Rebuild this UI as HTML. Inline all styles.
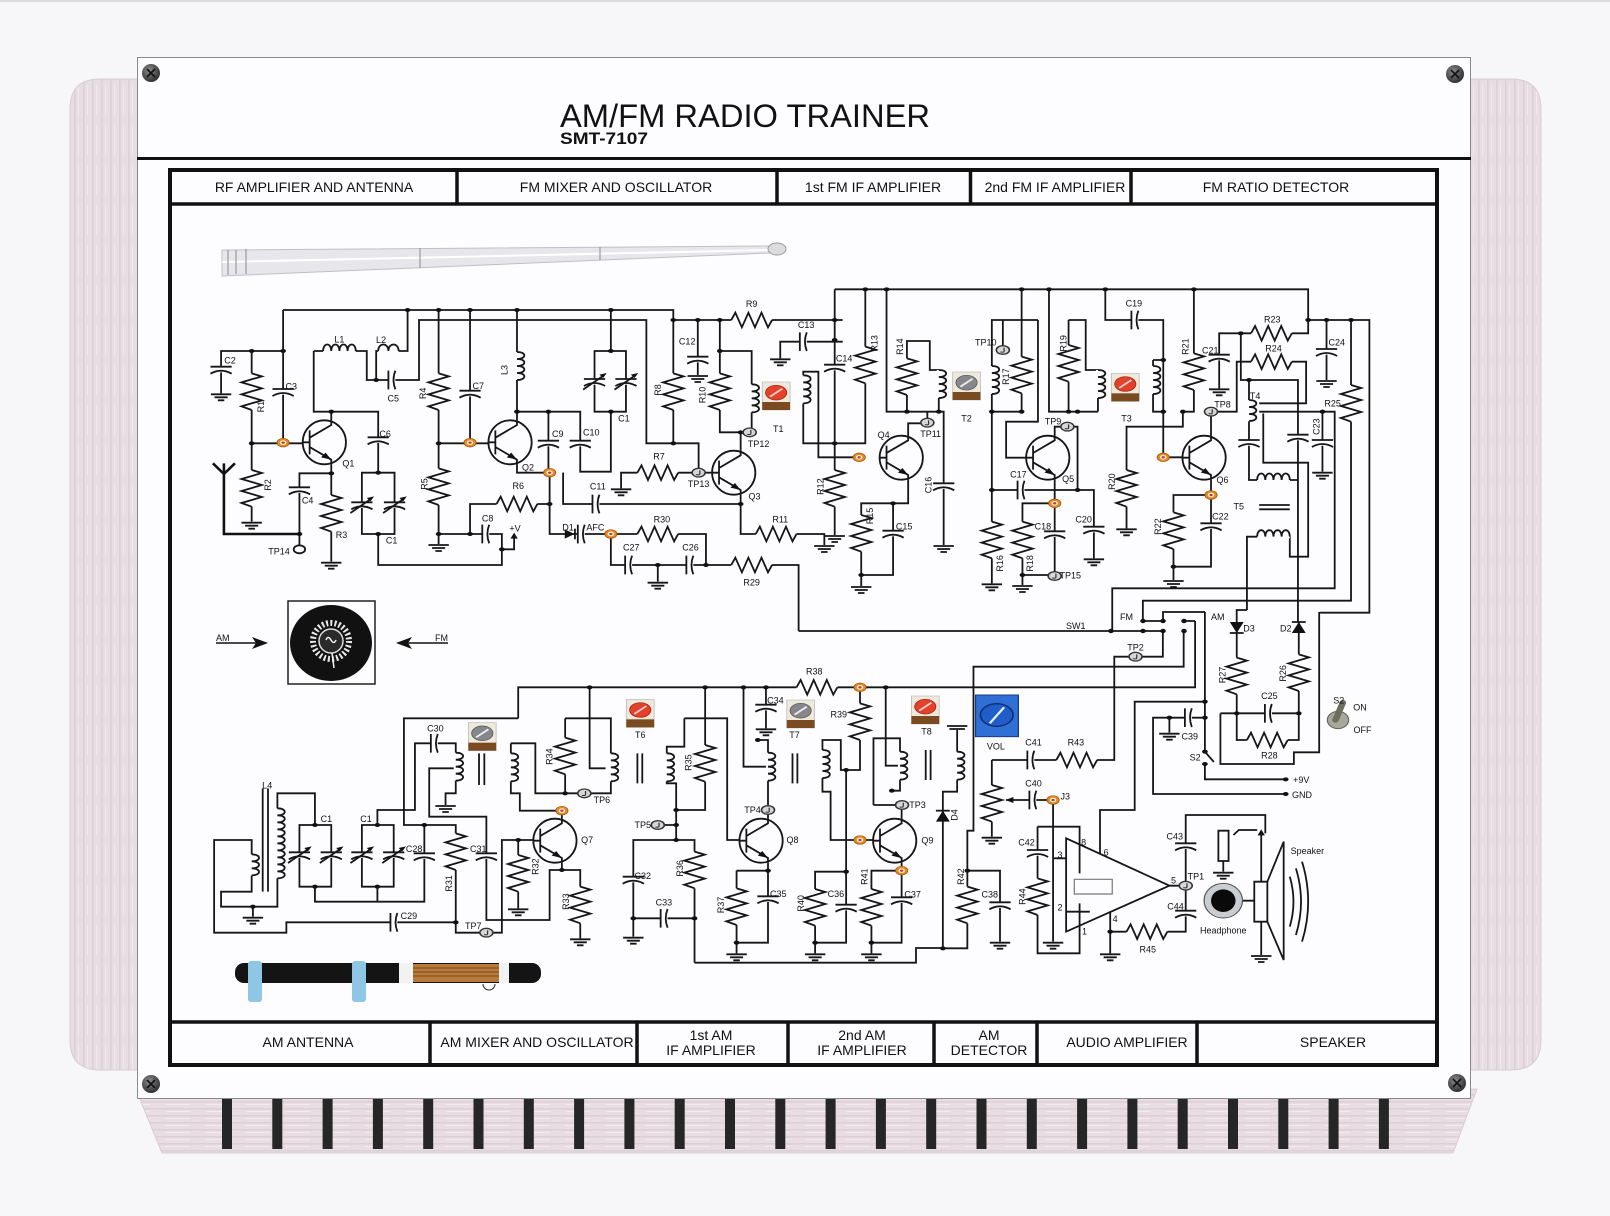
<!DOCTYPE html>
<html><head><meta charset="utf-8"><style>
html,body{margin:0;padding:0;background:#f7f7f9;}
svg{display:block}
.w{fill:none;stroke:#161616;stroke-width:1.8;vector-effect:non-scaling-stroke;stroke-linejoin:miter}
.b{fill:none;stroke:#111;stroke-width:2.6;vector-effect:non-scaling-stroke}
.t{font-family:"Liberation Sans",Arial,sans-serif;font-size:27px;fill:#111;text-anchor:middle;dominant-baseline:central}
.h{font-family:"Liberation Sans",Arial,sans-serif;font-size:14px;fill:#111;text-anchor:middle}
.s{font-family:"Liberation Sans",Arial,sans-serif;font-size:9px;fill:#111}
</style></head><body>
<svg width="1610" height="1216" viewBox="0 0 1610 1216" xmlns="http://www.w3.org/2000/svg">
<defs>
<pattern id="wv" width="9" height="40" patternUnits="userSpaceOnUse"><rect width="9" height="40" fill="#e9dde4"/><rect x="2" width="1.5" height="40" fill="#dccfd7"/><rect x="6" y="5" width="1" height="30" fill="#f2e8ee"/></pattern>
<pattern id="wh" width="40" height="7" patternUnits="userSpaceOnUse"><rect width="40" height="7" fill="#e9dde3"/><rect y="2" width="40" height="1.5" fill="#dcd0d7"/><rect x="5" y="5" width="25" height="1" fill="#f3eaef"/></pattern>
<radialGradient id="sg" cx="40%" cy="35%" r="70%"><stop offset="0" stop-color="#8a8a8a"/><stop offset="1" stop-color="#2a2a2a"/></radialGradient>
<g id="rv"><rect x="-5" y="-55" width="10" height="110" fill="#fdfcfe"/><path class="w" d="M0,-55 l25,9 l-50,18 l50,18 l-50,18 l50,18 l-50,18 l25,11"/></g>
<g id="rh"><rect x="-50" y="-5" width="100" height="10" fill="#fdfcfe"/><path class="w" d="M-50,0 l10,-22 l16,44 l16,-44 l16,44 l16,-44 l16,44 l10,-22"/></g>
<g id="cv"><rect x="-28" y="-8" width="56" height="17" fill="#fdfcfe"/><path class="w" d="M-26,-8 h52 M-26,13 q26,-18 52,0"/></g>
<g id="ch"><rect x="-8" y="-28" width="17" height="56" fill="#fdfcfe"/><path class="w" d="M-8,-28 v56 M9,-28 q-9,28 0,56"/></g>
<g id="lv"><rect x="-5" y="-42" width="10" height="84" fill="#fdfcfe"/><path class="w" d="M0,-42 c24,0 24,21 0,21 c24,0 24,21 0,21 c24,0 24,21 0,21 c24,0 24,21 0,21"/></g>
<g id="lvs"><rect x="-5" y="-32" width="10" height="64" fill="#fdfcfe"/><path class="w" d="M0,-32 c24,0 24,21 0,21 c24,0 24,21 0,21 c24,0 24,21 0,21"/></g>
<g id="lb"><rect x="-5" y="-105" width="10" height="210" fill="#fdfcfe"/><path class="w" d="M0,-105 c24,0 24,21 0,21 c24,0 24,21 0,21 c24,0 24,21 0,21 c24,0 24,21 0,21 c24,0 24,21 0,21 c24,0 24,21 0,21 c24,0 24,21 0,21 c24,0 24,21 0,21 c24,0 24,21 0,21 c24,0 24,21 0,21"/></g>
<g id="lh"><rect x="-40" y="-5" width="80" height="10" fill="#fdfcfe"/><path class="w" d="M-40,0 c0,-26 20,-26 20,0 c0,-26 20,-26 20,0 c0,-26 20,-26 20,0 c0,-26 20,-26 20,0"/></g>
<g id="lhs"><rect x="-25" y="-5" width="50" height="10" fill="#fdfcfe"/><path class="w" d="M-25,0 c0,-26 25,-26 25,0 c0,-26 25,-26 25,0"/></g>
<path id="gd" class="w" d="M-25,0 h50 M-16,9 h32 M-8,18 h16"/>
<ellipse id="dt" rx="7" ry="6" fill="#111"/>
<g id="q"><ellipse class="w" rx="53" ry="66"/><path class="w" d="M-53,0 H-36 M-36,-36 V36 M-36,-14 L17,-52 V-66 M-36,14 L17,52 V66"/><path d="M17,52 L-8,45 L3,31 Z" fill="#111"/></g>
<g id="vc"><use href="#cv"/><path class="w" d="M-28,24 L24,-20"/><path d="M30,-26 l-18,5 l9,10 z" fill="#111"/></g>
<g id="op"><ellipse rx="15" ry="13" fill="#e58a1f" stroke="#9a4e10" stroke-width="2"/><ellipse rx="8" ry="7" fill="#fff2dc"/><ellipse rx="4" ry="3.5" fill="#c33"/></g>
<g id="tp"><ellipse rx="16" ry="13" fill="#d6d6d6" stroke="#333" stroke-width="4"/><path d="M3,-7 V4 Q3,8 -6,6" fill="none" stroke="#333" stroke-width="3"/></g>
<g id="trg"><rect x="-34" y="-42" width="68" height="84" fill="#efe9dc" stroke="#bbb" stroke-width="2"/><rect x="-34" y="18" width="68" height="24" fill="#7a4a20"/><ellipse cy="-10" rx="26" ry="22" fill="#85878c" stroke="#555" stroke-width="2"/><path d="M-15,2 L15,-22" stroke="#eee" stroke-width="5"/></g>
<g id="trr"><rect x="-34" y="-42" width="68" height="84" fill="#efe9dc" stroke="#bbb" stroke-width="2"/><rect x="-34" y="18" width="68" height="24" fill="#7a4a20"/><ellipse cy="-10" rx="26" ry="22" fill="#e2412b" stroke="#a02010" stroke-width="2"/><path d="M-15,2 L15,-22" stroke="#f6d0c8" stroke-width="5"/></g>
</defs>

<rect width="1610" height="1216" fill="#f7f7f9"/>
<rect width="1610" height="2" fill="#dcdcdc"/>
<!-- side panels -->
<path d="M100,79 H140 V1070 H100 Q70,1070 70,1040 V109 Q70,79 100,79 Z" fill="url(#wv)" stroke="#d8ccd3" stroke-width="1"/>
<path d="M1468,79 H1511 Q1541,79 1541,109 V1040 Q1541,1070 1511,1070 H1468 Z" fill="url(#wv)" stroke="#d8ccd3" stroke-width="1"/>
<!-- bottom strip -->
<polygon points="139,1097 1477,1089 1453,1153 162,1153" fill="url(#wh)" stroke="#d8ccd3" stroke-width="1"/>
<g fill="#262626">
<rect x="222" y="1099" width="10" height="50"/><rect x="272.3" y="1099" width="10" height="50"/><rect x="322.6" y="1099" width="10" height="50"/><rect x="372.9" y="1099" width="10" height="50"/><rect x="423.2" y="1099" width="10" height="50"/><rect x="473.5" y="1099" width="10" height="50"/><rect x="523.8" y="1099" width="10" height="50"/><rect x="574.1" y="1099" width="10" height="50"/><rect x="624.4" y="1099" width="10" height="50"/><rect x="674.7" y="1099" width="10" height="50"/><rect x="725" y="1099" width="10" height="50"/><rect x="775.3" y="1099" width="10" height="50"/><rect x="825.6" y="1099" width="10" height="50"/><rect x="875.9" y="1099" width="10" height="50"/><rect x="926.2" y="1099" width="10" height="50"/><rect x="976.5" y="1099" width="10" height="50"/><rect x="1026.8" y="1099" width="10" height="50"/><rect x="1077.1" y="1099" width="10" height="50"/><rect x="1127.4" y="1099" width="10" height="50"/><rect x="1177.7" y="1099" width="10" height="50"/><rect x="1228" y="1099" width="10" height="50"/><rect x="1278.3" y="1099" width="10" height="50"/><rect x="1328.6" y="1099" width="10" height="50"/><rect x="1378.9" y="1099" width="10" height="50"/>
</g>
<!-- main panel -->
<rect x="137.5" y="57.5" width="1333" height="1041" fill="#fdfcfe" stroke="#8a8a8a" stroke-width="1"/>
<g>
<circle cx="151" cy="73" r="9" fill="url(#sg)"/><circle cx="1455" cy="74" r="9" fill="url(#sg)"/><circle cx="151" cy="1084" r="9" fill="url(#sg)"/><circle cx="1457" cy="1083" r="9" fill="url(#sg)"/>
<path d="M147,69 l8,8 M155,69 l-8,8 M1451,70 l8,8 M1459,70 l-8,8 M147,1080 l8,8 M155,1080 l-8,8 M1453,1079 l8,8 M1461,1079 l-8,8" stroke="#111" stroke-width="1.6"/>
</g>
<rect x="137" y="157" width="1334" height="3" fill="#111"/>
<text x="560" y="127" font-family="Liberation Sans, Arial, sans-serif" font-size="32" fill="#111" textLength="370" lengthAdjust="spacingAndGlyphs">AM/FM RADIO TRAINER</text>
<text x="560" y="144" font-family="Liberation Sans, Arial, sans-serif" font-size="17" font-weight="bold" fill="#111" textLength="88" lengthAdjust="spacingAndGlyphs">SMT-7107</text>

<!-- frame -->
<rect x="170" y="170" width="1267" height="895" fill="none" stroke="#111" stroke-width="4"/>
<path d="M170,204 H1437 M170,1022 H1437" stroke="#111" stroke-width="3.5"/>
<path d="M457,170 V204 M777,170 V204 M970.5,170 V204 M1131,170 V204 M430,1022 V1065 M637,1022 V1065 M788,1022 V1065 M934,1022 V1065 M1037,1022 V1065 M1197,1022 V1065" stroke="#111" stroke-width="3.5"/>
<text class="h" x="314" y="192">RF AMPLIFIER AND ANTENNA</text>
<text class="h" x="616" y="192">FM MIXER AND OSCILLATOR</text>
<text class="h" x="873" y="192">1st FM IF AMPLIFIER</text>
<text class="h" x="1055" y="192">2nd FM IF AMPLIFIER</text>
<text class="h" x="1276" y="192">FM RATIO DETECTOR</text>
<text class="h" x="308" y="1047">AM ANTENNA</text>
<text class="h" x="537" y="1047">AM MIXER AND OSCILLATOR</text>
<text class="h" x="711" y="1040">1st AM</text><text class="h" x="711" y="1055">IF AMPLIFIER</text>
<text class="h" x="862" y="1040">2nd AM</text><text class="h" x="862" y="1055">IF AMPLIFIER</text>
<text class="h" x="989" y="1040">AM</text><text class="h" x="989" y="1055">DETECTOR</text>
<text class="h" x="1127" y="1047">AUDIO AMPLIFIER</text>
<text class="h" x="1333" y="1047">SPEAKER</text>

<!-- telescopic antenna -->
<polygon points="222,250 770,246 770,253 222,276" fill="#e7e7eb" stroke="#bfc0c5" stroke-width="1"/>
<path d="M222,262 L770,250" stroke="#fff" stroke-width="2"/>
<path d="M228,250 V275 M236,250 V274 M246,249 V274 M420,248 V268 M600,247 V260" stroke="#9a9aa0" stroke-width="1.2"/>
<ellipse cx="777" cy="249" rx="9" ry="6" fill="#dcdcdf" stroke="#999" stroke-width="1"/>

<!-- dial and arrows -->
<rect x="288" y="601" width="87" height="83" fill="#fdfcfe" stroke="#222" stroke-width="1.5"/>
<ellipse cx="331" cy="643" rx="41" ry="38" fill="#111"/>
<circle cx="331" cy="641" r="18" fill="none" stroke="#e8e8e8" stroke-width="6" stroke-dasharray="2 2.2"/>
<circle cx="331" cy="641" r="12" fill="#2a2a2a" stroke="#ddd" stroke-width="1.5"/>
<path d="M326,640 q2,-5 5,0 q3,5 5,0" fill="none" stroke="#eee" stroke-width="1.5"/>
<path d="M332,653 L334,668" stroke="#eee" stroke-width="1.5"/>
<path d="M216,643 H258 M448,643 H406" stroke="#111" stroke-width="1.6"/>
<path d="M268,643 l-16,-6 l4,6 l-4,6 z M396,643 l16,-6 l-4,6 l4,6 z" fill="#111"/>
<text class="s" x="216" y="641">AM</text><text class="s" x="435" y="641">FM</text>

<!-- ferrite antenna -->
<rect x="235" y="963" width="306" height="20" rx="9" fill="#141414"/>
<rect x="399" y="963" width="14" height="20" fill="#f2f2f2"/>
<rect x="413" y="964" width="86" height="18" fill="#b8793a"/>
<path d="M413,968 H499 M413,972 H499 M413,976 H499" stroke="#7a4a1a" stroke-width="1"/>
<rect x="499" y="963" width="10" height="20" fill="#f2f2f2"/>
<rect x="248" y="961" width="14" height="41" rx="3" fill="#8fc6e6"/>
<rect x="352" y="961" width="14" height="41" rx="3" fill="#8fc6e6"/>
<path d="M483,984 a6,6 0 1 0 12,0" fill="none" stroke="#222" stroke-width="1"/>

<!-- ================= Z5: FM top-left ================= -->
<g transform="translate(168,280) scale(0.408163,0.333333)">
<path class="w" d="M282,90 H1238 V490 M1238,120 H1653 M130,340 V213 H282 V90 M205,213 V725 M282,213 V488 M205,490 H330
M357,213 V395 H515 V578 M400,421 V395 M357,213 H487 V300 H615 V120 H1172 V490 H1300 V578 M510,300 V213 H587 V90
M400,553 V845 M400,580 H322 V796 M475,578 H555 V762 H475 Z M515,762 V855 H818 V808
M663,90 V792 M663,762 H818 V808 H848 V772 M740,762 V672 H935 M740,90 V488 M663,490 H785
M855,90 V395 H1010 V575 H1085 V395 M1085,90 V213 M932,395 V578 M855,421 V395 M855,553 V578 H935 V762 H1085
M968,578 V672 H1403 M1045,213 H1122 V395 H1045 Z M1085,762 H1318 V855 M1085,762 V855 H1545 V1053 M1200,855 V905
M1110,625 V578 H1333 M1403,512 V457 H1352 V120 M1403,644 V762 H1608 V795 M1298,120 V285 M1352,213 H1430 V457 H1403
M1500,235 V185 H1653"/>
<path class="b" d="M110,550 L137,582 L164,550 M137,550 V762 H322"/>
<use href="#cv" x="130" y="268"/><use href="#gd" x="130" y="343"/>
<use href="#rv" x="205" y="335"/><use href="#rv" x="205" y="625"/><use href="#gd" x="205" y="728"/>
<use href="#cv" x="282" y="335"/>
<use href="#q" x="383" y="487"/>
<use href="#lh" x="420" y="213"/><use href="#lhs" x="540" y="213"/><use href="#ch" x="548" y="300"/>
<use href="#cv" x="322" y="630"/><use href="#rv" x="400" y="700"/><use href="#gd" x="400" y="848"/>
<use href="#cv" x="515" y="480"/><use href="#vc" x="475" y="675"/><use href="#vc" x="555" y="675"/>
<use href="#rv" x="663" y="335"/><use href="#rv" x="663" y="620"/><use href="#gd" x="663" y="795"/>
<use href="#ch" x="778" y="762"/><use href="#rh" x="855" y="672"/><use href="#cv" x="740" y="340"/>
<use href="#q" x="838" y="487"/><use href="#lv" x="855" y="258"/>
<use href="#cv" x="932" y="490"/><use href="#cv" x="1010" y="490"/><use href="#ch" x="1048" y="672"/>
<use href="#vc" x="1045" y="305"/><use href="#vc" x="1122" y="305"/>
<path d="M972,748 L996,762 L972,776 Z" fill="#111"/><path class="w" d="M997,746 V778"/>
<use href="#ch" x="1012" y="762"/>
<use href="#rh" x="1200" y="762"/><use href="#ch" x="1128" y="855"/><use href="#ch" x="1278" y="855"/><use href="#rh" x="1430" y="855"/><use href="#gd" x="1200" y="908"/>
<use href="#rh" x="1200" y="578"/><use href="#gd" x="1110" y="628"/>
<use href="#q" x="1386" y="578"/>
<use href="#rh" x="1490" y="762"/><use href="#gd" x="1608" y="798"/>
<use href="#rv" x="1238" y="335"/><use href="#rh" x="1430" y="120"/>
<use href="#cv" x="1298" y="238"/><use href="#gd" x="1298" y="288"/>
<use href="#rv" x="1352" y="335"/><use href="#lv" x="1430" y="355"/>
<use href="#ch" x="1556" y="185"/><use href="#gd" x="1500" y="238"/>
<path d="M848,758 l-9,18 h18 z" fill="#111"/>
<use href="#trr" x="1490" y="348"/>
<g>
<use href="#dt" x="282" y="213"/><use href="#dt" x="205" y="213"/><use href="#dt" x="205" y="490"/><use href="#dt" x="400" y="395"/><use href="#dt" x="400" y="580"/><use href="#dt" x="515" y="578"/><use href="#dt" x="515" y="762"/><use href="#dt" x="322" y="762"/><use href="#dt" x="587" y="90"/><use href="#dt" x="510" y="300"/><use href="#dt" x="663" y="90"/><use href="#dt" x="740" y="90"/><use href="#dt" x="855" y="90"/><use href="#dt" x="1085" y="90"/><use href="#dt" x="663" y="490"/><use href="#dt" x="663" y="762"/><use href="#dt" x="740" y="762"/><use href="#dt" x="818" y="808"/><use href="#dt" x="855" y="395"/><use href="#dt" x="932" y="395"/><use href="#dt" x="935" y="672"/><use href="#dt" x="1085" y="213"/><use href="#dt" x="1085" y="395"/><use href="#dt" x="1238" y="490"/><use href="#dt" x="1238" y="120"/><use href="#dt" x="1298" y="120"/><use href="#dt" x="1352" y="120"/><use href="#dt" x="1352" y="213"/><use href="#dt" x="1403" y="457"/><use href="#dt" x="1403" y="672"/><use href="#dt" x="1200" y="855"/><use href="#dt" x="1318" y="855"/>
</g>
<use href="#op" x="282" y="488"/><use href="#op" x="740" y="488"/><use href="#op" x="935" y="578"/><use href="#op" x="1085" y="762"/>
<use href="#tp" x="1300" y="578"/><use href="#tp" x="1425" y="457"/>
<ellipse cx="322" cy="808" rx="14" ry="12" fill="#fff" class="w"/>
<g>
<text class="t" transform="translate(420,178) scale(.8167,1)">L1</text>
<text class="t" transform="translate(522,180) scale(.8167,1)">L2</text>
<text class="t" transform="translate(152,242) scale(.8167,1)">C2</text>
<text class="t" transform="translate(302,320) scale(.8167,1)">C3</text>
<text class="t" transform="translate(228,380) scale(.8167,1) rotate(-90)">R1</text>
<text class="t" transform="translate(245,615) scale(.8167,1) rotate(-90)">R2</text>
<text class="t" transform="translate(342,662) scale(.8167,1)">C4</text>
<text class="t" transform="translate(425,765) scale(.8167,1)">R3</text>
<text class="t" transform="translate(272,815) scale(.8167,1)">TP14</text>
<text class="t" transform="translate(442,550) scale(.8167,1)">Q1</text>
<text class="t" transform="translate(532,462) scale(.8167,1)">C6</text>
<text class="t" transform="translate(548,782) scale(.8167,1)">C1</text>
<text class="t" transform="translate(552,355) scale(.8167,1)">C5</text>
<text class="t" transform="translate(625,340) scale(.8167,1) rotate(-90)">R4</text>
<text class="t" transform="translate(760,318) scale(.8167,1)">C7</text>
<text class="t" transform="translate(825,270) scale(.8167,1) rotate(-90)">L3</text>
<text class="t" transform="translate(628,612) scale(.8167,1) rotate(-90)">R5</text>
<text class="t" transform="translate(858,618) scale(.8167,1)">R6</text>
<text class="t" transform="translate(783,715) scale(.8167,1)">C8</text>
<text class="t" transform="translate(850,745) scale(.8167,1)">+V</text>
<text class="t" transform="translate(882,562) scale(.8167,1)">Q2</text>
<text class="t" transform="translate(955,462) scale(.8167,1)">C9</text>
<text class="t" transform="translate(1037,458) scale(.8167,1)">C10</text>
<text class="t" transform="translate(1053,620) scale(.8167,1)">C11</text>
<text class="t" transform="translate(1117,415) scale(.8167,1)">C1</text>
<text class="t" transform="translate(980,742) scale(.8167,1)">D1</text>
<text class="t" transform="translate(1047,742) scale(.8167,1)">AFC</text>
<text class="t" transform="translate(1210,718) scale(.8167,1)">R30</text>
<text class="t" transform="translate(1135,802) scale(.8167,1)">C27</text>
<text class="t" transform="translate(1280,802) scale(.8167,1)">C26</text>
<text class="t" transform="translate(1430,908) scale(.8167,1)">R29</text>
<text class="t" transform="translate(1203,530) scale(.8167,1)">R7</text>
<text class="t" transform="translate(1300,612) scale(.8167,1)">TP13</text>
<text class="t" transform="translate(1437,650) scale(.8167,1)">Q3</text>
<text class="t" transform="translate(1447,492) scale(.8167,1)">TP12</text>
<text class="t" transform="translate(1495,447) scale(.8167,1)">T1</text>
<text class="t" transform="translate(1200,330) scale(.8167,1) rotate(-90)">R8</text>
<text class="t" transform="translate(1272,185) scale(.8167,1)">C12</text>
<text class="t" transform="translate(1310,345) scale(.8167,1) rotate(-90)">R10</text>
<text class="t" transform="translate(1430,72) scale(.8167,1)">R9</text>
<text class="t" transform="translate(1500,718) scale(.8167,1)">R11</text>
</g>
</g>

<!-- ================= Z6: FM top-right ================= -->
<g transform="translate(800,280) scale(0.408163,0.333333)">
<path class="w" d="M85,28 H1245 V120 H1395 V998 H1275 V1000 M85,28 V765 M160,28 V490 H8 V370 M8,286 V275 H45 V532 H145
M265,467 V430 H300 M312,415 V395 M212,28 V395 H352 V795 M262,395 V183 H318 V270 H340 V395
M265,599 V670 H150 V918 M228,670 V885 H150 M543,28 V395 H470 V910 M583,120 H470 V395 M497,120 V197 M583,120 V425 H505 V533 H554
M470,630 H720 V835 M624,467 V440 H642 M668,440 H680 V630 M624,599 V875 M624,670 H545 V915 M545,885 H610
M610,28 V395 H730 M658,120 V395 M658,120 H700 V270 H730 V395
M748,28 V120 H890 V532 H937 M865,240 H890 M865,240 V395 H890
M965,28 V395 H938 V440 H800 V745 M1007,467 V408 M1020,395 H1070 V245 H1240 V370 H1125
M1007,599 V860 H915 V900 M1007,645 H915 V860 M1027,325 V160 H1245 V120 M1080,160 V300 H1220 V1026
M1100,300 V600 H1120 M1200,600 H1220 M1125,395 H1310 V925 H765 V1053 M1280,395 V575
M1135,400 V548 H1245 V830 H1200 V770 M1120,770 H1095 V990 M1125,675 H1200 M1125,688 H1200
M1350,120 V962 H840 V1023 M1290,120 V300"/>
<use href="#cv" x="85" y="262"/><use href="#rv" x="85" y="625"/><use href="#gd" x="85" y="768"/>
<use href="#rv" x="160" y="255"/><use href="#lv" x="8" y="328"/>
<use href="#q" x="248" y="533"/>
<use href="#cv" x="352" y="618"/><use href="#gd" x="352" y="798"/>
<use href="#rv" x="262" y="290"/><use href="#lv" x="340" y="312"/>
<use href="#rv" x="150" y="760"/><use href="#cv" x="228" y="760"/><use href="#gd" x="150" y="921"/>
<use href="#trg" x="408" y="318"/>
<use href="#rv" x="543" y="285"/><use href="#rv" x="470" y="780"/><use href="#gd" x="470" y="913"/><use href="#lv" x="470" y="300"/>
<use href="#ch" x="541" y="630"/><use href="#cv" x="720" y="748"/><use href="#gd" x="720" y="838"/>
<use href="#q" x="607" y="533"/>
<use href="#cv" x="624" y="762"/><use href="#rv" x="545" y="780"/><use href="#gd" x="545" y="918"/>
<use href="#rv" x="658" y="250"/><use href="#lv" x="730" y="312"/>
<use href="#trr" x="797" y="322"/>
<use href="#ch" x="820" y="120"/><use href="#lv" x="865" y="300"/>
<use href="#rv" x="965" y="275"/><use href="#rv" x="800" y="625"/><use href="#gd" x="800" y="748"/>
<use href="#q" x="990" y="533"/>
<use href="#rh" x="1155" y="245"/><use href="#cv" x="1007" y="738"/><use href="#rv" x="915" y="752"/><use href="#gd" x="915" y="903"/>
<use href="#cv" x="1027" y="232"/><use href="#gd" x="1027" y="328"/><use href="#rh" x="1155" y="160"/>
<use href="#lvs" x="1100" y="392"/><use href="#cv" x="1100" y="488"/><use href="#lh" x="1160" y="600"/><use href="#cv" x="1220" y="472"/>
<use href="#cv" x="1280" y="488"/><use href="#gd" x="1280" y="578"/>
<use href="#lh" x="1160" y="770"/>
<use href="#rv" x="1350" y="370"/><use href="#cv" x="1290" y="215"/><use href="#gd" x="1290" y="303"/>
<g>
<use href="#dt" x="85" y="120"/><use href="#dt" x="85" y="180"/><use href="#dt" x="85" y="490"/><use href="#dt" x="160" y="28"/><use href="#dt" x="212" y="28"/><use href="#dt" x="543" y="28"/><use href="#dt" x="610" y="28"/><use href="#dt" x="748" y="28"/><use href="#dt" x="965" y="28"/><use href="#dt" x="1245" y="120"/><use href="#dt" x="1290" y="120"/><use href="#dt" x="1350" y="120"/>
<use href="#dt" x="262" y="395"/><use href="#dt" x="340" y="395"/><use href="#dt" x="228" y="670"/><use href="#dt" x="150" y="885"/><use href="#dt" x="470" y="395"/><use href="#dt" x="543" y="395"/><use href="#dt" x="470" y="630"/><use href="#dt" x="680" y="630"/><use href="#dt" x="545" y="885"/><use href="#dt" x="658" y="395"/><use href="#dt" x="680" y="395"/><use href="#dt" x="890" y="240"/><use href="#dt" x="890" y="395"/><use href="#dt" x="938" y="395"/><use href="#dt" x="915" y="860"/><use href="#dt" x="1080" y="160"/><use href="#dt" x="1100" y="300"/><use href="#dt" x="1280" y="395"/>
</g>
<use href="#op" x="145" y="532"/><use href="#op" x="624" y="670"/><use href="#op" x="890" y="532"/><use href="#op" x="1007" y="645"/>
<use href="#tp" x="312" y="428"/><use href="#tp" x="497" y="210"/><use href="#tp" x="655" y="440"/><use href="#tp" x="624" y="888"/><use href="#tp" x="1007" y="395"/>
<g>
<text class="t" transform="translate(15,135) scale(.8167,1)">C13</text>
<text class="t" transform="translate(108,235) scale(.8167,1)">C14</text>
<text class="t" transform="translate(183,190) scale(.8167,1) rotate(-90)">R13</text>
<text class="t" transform="translate(50,620) scale(.8167,1) rotate(-90)">R12</text>
<text class="t" transform="translate(245,200) scale(.8167,1) rotate(-90)">R14</text>
<text class="t" transform="translate(205,465) scale(.8167,1)">Q4</text>
<text class="t" transform="translate(320,462) scale(.8167,1)">TP11</text>
<text class="t" transform="translate(315,615) scale(.8167,1) rotate(-90)">C16</text>
<text class="t" transform="translate(172,708) scale(.8167,1) rotate(-90)">R15</text>
<text class="t" transform="translate(255,740) scale(.8167,1)">C15</text>
<text class="t" transform="translate(408,415) scale(.8167,1)">T2</text>
<text class="t" transform="translate(455,187) scale(.8167,1)">TP10</text>
<text class="t" transform="translate(505,290) scale(.8167,1) rotate(-90)">R17</text>
<text class="t" transform="translate(490,850) scale(.8167,1) rotate(-90)">R16</text>
<text class="t" transform="translate(535,583) scale(.8167,1)">C17</text>
<text class="t" transform="translate(645,190) scale(.8167,1) rotate(-90)">R19</text>
<text class="t" transform="translate(620,425) scale(.8167,1)">TP9</text>
<text class="t" transform="translate(657,597) scale(.8167,1)">Q5</text>
<text class="t" transform="translate(563,850) scale(.8167,1) rotate(-90)">R18</text>
<text class="t" transform="translate(595,740) scale(.8167,1)">C18</text>
<text class="t" transform="translate(662,887) scale(.8167,1)">TP15</text>
<text class="t" transform="translate(695,718) scale(.8167,1)">C20</text>
<text class="t" transform="translate(818,70) scale(.8167,1)">C19</text>
<text class="t" transform="translate(800,415) scale(.8167,1)">T3</text>
<text class="t" transform="translate(945,200) scale(.8167,1) rotate(-90)">R21</text>
<text class="t" transform="translate(765,605) scale(.8167,1) rotate(-90)">R20</text>
<text class="t" transform="translate(1035,600) scale(.8167,1)">Q6</text>
<text class="t" transform="translate(1030,710) scale(.8167,1)">C22</text>
<text class="t" transform="translate(877,740) scale(.8167,1) rotate(-90)">R22</text>
<text class="t" transform="translate(1035,374) scale(.8167,1)">TP8</text>
<text class="t" transform="translate(1005,212) scale(.8167,1)">C21</text>
<text class="t" transform="translate(1157,118) scale(.8167,1)">R23</text>
<text class="t" transform="translate(1160,205) scale(.8167,1)">R24</text>
<text class="t" transform="translate(1315,188) scale(.8167,1)">C24</text>
<text class="t" transform="translate(1305,370) scale(.8167,1)">R25</text>
<text class="t" transform="translate(1115,348) scale(.8167,1)">T4</text>
<text class="t" transform="translate(1265,440) scale(.8167,1) rotate(-90)">C23</text>
<text class="t" transform="translate(1075,680) scale(.8167,1)">T5</text>
</g>
</g>

<!-- ================= Z7: AM bottom-left ================= -->
<g transform="translate(168,620) scale(0.408163,0.333333)">
<path class="w" d="M858,295 V202 H1540 M1640,202 H1715 M858,295 H578 V615 H705 V938 H765
M268,570 V520 H360 V615 M232,505 V815 M245,505 V815 M268,770 V860 H208 V890
M205,703 V660 H113 V938 H290 V907 H705 M205,766 V815 H130 V860 H208
M322,615 H400 V800 H322 Z M475,615 H553 V800 H475 Z M360,800 V845 H628 V615 M513,800 V845
M513,615 V570 H605 V370 H705 V520 H680 V555 M705,445 H640 V590 H780 V900 H935 V750 H965
M795,938 H818 V660 H895 M858,660 V865 M965,596 V572 M965,728 V750 H1010 V955
M840,370 H900 V520 H1005 M840,370 V520 H862 V572 H952 M973,295 V520 M973,295 H1085 V520 H1035 M1033,202 V445 H1072
M1265,295 H1370 V660 H1400 M1265,295 V380 H1222 V490 H1245 V660 M1316,202 V570 H1245 M1213,615 H1245
M1245,660 H1140 V950 M1140,895 H1290 M1245,660 H1290 V1028
M1470,596 V583 M1470,557 V360 H1445 M1410,202 V440 H1470 M1465,202 V325 M1470,728 V968 H1393 V1000 M1393,752 H1470 M1393,752 V968
M762,400 V495 M775,400 V495 M1150,400 V490 M1162,400 V490 M1530,400 V490 M1542,400 V490"/>
<use href="#rh" x="1590" y="202"/>
<use href="#lb" x="268" y="670"/><use href="#lvs" x="205" y="735"/><use href="#gd" x="208" y="893"/>
<use href="#vc" x="322" y="705"/><use href="#vc" x="400" y="705"/><use href="#vc" x="475" y="705"/><use href="#vc" x="553" y="705"/>
<use href="#cv" x="628" y="708"/><use href="#ch" x="553" y="907"/><use href="#ch" x="652" y="370"/>
<use href="#lv" x="705" y="440"/><use href="#gd" x="680" y="558"/>
<use href="#rv" x="705" y="695"/><use href="#cv" x="780" y="708"/>
<use href="#rv" x="858" y="760"/><use href="#gd" x="858" y="868"/>
<use href="#q" x="948" y="662"/>
<use href="#rv" x="1010" y="855"/><use href="#gd" x="1010" y="958"/>
<use href="#trg" x="770" y="350"/>
<use href="#lv" x="840" y="442"/><use href="#rv" x="973" y="408"/><use href="#lv" x="1085" y="442"/>
<use href="#trr" x="1157" y="280"/>
<use href="#lv" x="1222" y="442"/><use href="#rv" x="1316" y="430"/>
<use href="#cv" x="1140" y="778"/><use href="#gd" x="1140" y="953"/><use href="#ch" x="1215" y="895"/><use href="#rv" x="1290" y="750"/>
<use href="#q" x="1453" y="662"/>
<use href="#lv" x="1470" y="440"/>
<use href="#cv" x="1465" y="262"/><use href="#gd" x="1465" y="328"/>
<use href="#trg" x="1550" y="282"/>
<use href="#cv" x="1470" y="837"/><use href="#rv" x="1393" y="860"/><use href="#gd" x="1393" y="1003"/>
<g>
<use href="#dt" x="360" y="615"/><use href="#dt" x="360" y="800"/><use href="#dt" x="513" y="615"/><use href="#dt" x="513" y="800"/><use href="#dt" x="208" y="860"/><use href="#dt" x="628" y="615"/><use href="#dt" x="705" y="907"/><use href="#dt" x="858" y="660"/><use href="#dt" x="965" y="750"/><use href="#dt" x="973" y="520"/><use href="#dt" x="1245" y="570"/><use href="#dt" x="1245" y="615"/><use href="#dt" x="1245" y="660"/><use href="#dt" x="1140" y="895"/><use href="#dt" x="1290" y="895"/><use href="#dt" x="1033" y="202"/><use href="#dt" x="1316" y="202"/><use href="#dt" x="1410" y="202"/><use href="#dt" x="1465" y="202"/><use href="#dt" x="1445" y="360"/><use href="#dt" x="1470" y="752"/><use href="#dt" x="1393" y="968"/>
</g>
<use href="#op" x="965" y="572"/>
<use href="#tp" x="780" y="938"/><use href="#tp" x="1020" y="520"/><use href="#tp" x="1200" y="615"/><use href="#tp" x="1470" y="570"/>
<g>
<text class="t" transform="translate(243,497) scale(.8167,1)">L4</text>
<text class="t" transform="translate(388,597) scale(.8167,1)">C1</text>
<text class="t" transform="translate(485,597) scale(.8167,1)">C1</text>
<text class="t" transform="translate(603,687) scale(.8167,1)">C28</text>
<text class="t" transform="translate(688,790) scale(.8167,1) rotate(-90)">R31</text>
<text class="t" transform="translate(760,687) scale(.8167,1)">C31</text>
<text class="t" transform="translate(655,325) scale(.8167,1)">C30</text>
<text class="t" transform="translate(900,740) scale(.8167,1) rotate(-90)">R32</text>
<text class="t" transform="translate(1027,660) scale(.8167,1)">Q7</text>
<text class="t" transform="translate(975,845) scale(.8167,1) rotate(-90)">R33</text>
<text class="t" transform="translate(748,918) scale(.8167,1)">TP7</text>
<text class="t" transform="translate(590,888) scale(.8167,1)">C29</text>
<text class="t" transform="translate(1063,540) scale(.8167,1)">TP6</text>
<text class="t" transform="translate(935,410) scale(.8167,1) rotate(-90)">R34</text>
<text class="t" transform="translate(1157,345) scale(.8167,1)">T6</text>
<text class="t" transform="translate(1275,428) scale(.8167,1) rotate(-90)">R35</text>
<text class="t" transform="translate(1163,615) scale(.8167,1)">TP5</text>
<text class="t" transform="translate(1163,768) scale(.8167,1)">C32</text>
<text class="t" transform="translate(1255,745) scale(.8167,1) rotate(-90)">R36</text>
<text class="t" transform="translate(1215,848) scale(.8167,1)">C33</text>
<text class="t" transform="translate(1432,570) scale(.8167,1)">TP4</text>
<text class="t" transform="translate(1530,660) scale(.8167,1)">Q8</text>
<text class="t" transform="translate(1488,242) scale(.8167,1)">C34</text>
<text class="t" transform="translate(1535,345) scale(.8167,1)">T7</text>
<text class="t" transform="translate(1355,855) scale(.8167,1) rotate(-90)">R37</text>
<text class="t" transform="translate(1495,822) scale(.8167,1)">C35</text>
</g>
</g>

<!-- ================= Z8: AM bottom-right ================= -->
<g transform="translate(800,620) scale(0.408163,0.333333)">
<path class="w" d="M147,202 H968 V3 M147,202 V450 H100 V360 H55 V515 H75 V660 H179
M113,450 V968 H37 V755 H113 M37,968 V1000 M175,968 V1000
M180,555 V355 H245 V512 H225 M210,202 V437 H240 M180,555 H237 M249,596 V568 M249,728 V968 H175 M249,752 H175 V968
M385,330 V515 H350 V985 H410 V752 H490 V965 M410,752 V632 H425 V140 H940 V33
M470,420 V650 M470,420 H770 V110 H810 M835,110 H889 V33 M505,540 H607
M620,553 V965 M582,620 H685 V760 M582,620 V1000 H685 V850 M620,715 H652 M652,875 H710
M735,702 V570 H820 V245 H992 M760,874 V1000 M760,935 H945 V810 M932,797 H905 M945,784 V585 H1140 V640
M1130,640 V785 M1037,723 V755 M1085,842 H1113 M1130,905 V1005 M1062,645 L1075,630 H1120
M992,-24 V395 M992,395 L1014,426 M992,432 V478 H1190 M992,293 H865 V522 H1190 M905,293 V338
M1070,6 V360 H1095 M1195,360 H1222 V6 M1030,280 H1222 M1030,280 V432 H1210 V397 H1272 V-24
M360,318 H410 M366,327 H404"/>
<path class="w" d="M652,655 L652,935 L905,797 Z"/>
<path d="M672,778 H765 V822 H672 Z" fill="none" stroke="#777" stroke-width="1.2" vector-effect="non-scaling-stroke"/>
<use href="#rv" x="147" y="305"/><use href="#lv" x="55" y="432"/>
<use href="#cv" x="113" y="862"/><use href="#rv" x="37" y="862"/><use href="#gd" x="37" y="1003"/><use href="#gd" x="175" y="1003"/>
<use href="#q" x="232" y="662"/>
<use href="#lv" x="245" y="437"/>
<use href="#rv" x="175" y="862"/><use href="#cv" x="249" y="840"/>
<use href="#trr" x="307" y="270"/>
<path class="w" d="M308,390 V480 M320,390 V480"/>
<use href="#lv" x="385" y="437"/>
<path d="M333,605 L367,605 L350,572 Z" fill="#111"/><path class="w" d="M333,572 H367"/>
<use href="#rv" x="410" y="855"/><use href="#cv" x="490" y="855"/><use href="#gd" x="490" y="968"/>
<rect x="430" y="225" width="105" height="125" fill="#2f6fd6" stroke="#163b80" stroke-width="3"/>
<ellipse cx="482" cy="285" rx="40" ry="34" fill="#1f5ec8" stroke="#0d2f70" stroke-width="4"/>
<path d="M465,310 L500,262" stroke="#e8eefc" stroke-width="6"/>
<use href="#rv" x="470" y="550"/><use href="#gd" x="470" y="653"/>
<use href="#ch" x="565" y="420"/><use href="#rh" x="678" y="420"/><use href="#ch" x="570" y="540"/>
<path d="M503,540 l20,-9 v18 z" fill="#111"/>
<use href="#cv" x="582" y="698"/><use href="#rv" x="582" y="830"/><use href="#gd" x="620" y="968"/>
<use href="#gd" x="760" y="1003"/><use href="#rh" x="850" y="935"/><use href="#cv" x="945" y="880"/><use href="#cv" x="945" y="678"/>
<rect x="1025" y="632" width="25" height="91" fill="#fdfcfe" class="w"/>
<use href="#gd" x="1037" y="758"/>
<path d="M1130,628 l-9,18 h18 z" fill="#111"/>
<ellipse cx="1037" cy="842" rx="47" ry="52" fill="#c9cdd2" stroke="#555" stroke-width="3"/>
<ellipse cx="1037" cy="842" rx="30" ry="34" fill="#0a0a0a"/>
<rect x="1113" y="785" width="32" height="120" fill="#fdfcfe" class="w"/>
<path class="w" d="M1145,785 L1185,665 L1185,1020 L1145,905"/>
<path class="w" d="M1200,770 q18,75 0,150 M1215,745 q25,100 0,200 M1230,725 q30,120 0,240"/>
<use href="#gd" x="1130" y="1008"/>
<use href="#ch" x="951" y="293"/><use href="#gd" x="905" y="341"/>
<use href="#rv" x="1070" y="168"/><use href="#rv" x="1222" y="158"/><use href="#ch" x="1147" y="280"/><use href="#rh" x="1145" y="360"/>
<path d="M1053,6 L1087,6 L1070,39 Z M1205,39 L1239,39 L1222,6 Z" fill="#111"/><path class="w" d="M1053,39 H1087 M1205,6 H1239"/>
<ellipse cx="1318" cy="300" rx="26" ry="26" fill="#a8a89a" stroke="#666" stroke-width="3"/>
<path d="M1312,300 L1330,248" stroke="#6d6d60" stroke-width="16" stroke-linecap="round"/>
<g>
<use href="#dt" x="210" y="202"/><use href="#dt" x="113" y="450"/><use href="#dt" x="113" y="755"/><use href="#dt" x="37" y="968"/><use href="#dt" x="175" y="968"/><use href="#dt" x="225" y="512"/><use href="#dt" x="350" y="985"/><use href="#dt" x="410" y="752"/><use href="#dt" x="760" y="935"/><use href="#dt" x="992" y="245"/><use href="#dt" x="992" y="293"/><use href="#dt" x="905" y="293"/><use href="#dt" x="992" y="395"/><use href="#dt" x="992" y="432"/><use href="#dt" x="1190" y="478"/><use href="#dt" x="1190" y="522"/><use href="#dt" x="1070" y="280"/><use href="#dt" x="1222" y="280"/>
</g>
<use href="#op" x="147" y="202"/><use href="#op" x="147" y="660"/><use href="#op" x="249" y="752"/><use href="#op" x="620" y="540"/>
<use href="#tp" x="250" y="555"/><use href="#tp" x="822" y="110"/><use href="#tp" x="945" y="797"/>
<g>
<text class="t" transform="translate(35,155) scale(.8167,1)">R38</text>
<text class="t" transform="translate(95,283) scale(.8167,1)">R39</text>
<text class="t" transform="translate(88,822) scale(.8167,1)">C36</text>
<text class="t" transform="translate(2,850) scale(.8167,1) rotate(-90)">R40</text>
<text class="t" transform="translate(158,770) scale(.8167,1) rotate(-90)">R41</text>
<text class="t" transform="translate(276,824) scale(.8167,1)">C37</text>
<text class="t" transform="translate(312,662) scale(.8167,1)">Q9</text>
<text class="t" transform="translate(288,555) scale(.8167,1)">TP3</text>
<text class="t" transform="translate(378,585) scale(.8167,1) rotate(-90)">D4</text>
<text class="t" transform="translate(310,335) scale(.8167,1)">T8</text>
<text class="t" transform="translate(395,770) scale(.8167,1) rotate(-90)">R42</text>
<text class="t" transform="translate(465,824) scale(.8167,1)">C38</text>
<text class="t" transform="translate(480,380) scale(.8167,1)">VOL</text>
<text class="t" transform="translate(572,368) scale(.8167,1)">C41</text>
<text class="t" transform="translate(676,368) scale(.8167,1)">R43</text>
<text class="t" transform="translate(572,490) scale(.8167,1)">C40</text>
<text class="t" transform="translate(650,530) scale(.8167,1)">J3</text>
<text class="t" transform="translate(555,668) scale(.8167,1)">C42</text>
<text class="t" transform="translate(545,830) scale(.8167,1) rotate(-90)">R44</text>
<text class="t" transform="translate(918,650) scale(.8167,1)">C43</text>
<text class="t" transform="translate(970,770) scale(.8167,1)">TP1</text>
<text class="t" transform="translate(920,860) scale(.8167,1)">C44</text>
<text class="t" transform="translate(852,988) scale(.8167,1)">R45</text>
<text class="t" transform="translate(968,412) scale(.8167,1)">S2</text>
<text class="t" transform="translate(955,350) scale(.8167,1)">C39</text>
<text class="t" transform="translate(1228,480) scale(.8167,1)">+9V</text>
<text class="t" transform="translate(1230,525) scale(.8167,1)">GND</text>
<text class="t" transform="translate(1243,693) scale(.8167,1)">Speaker</text>
<text class="t" transform="translate(1037,932) scale(.8167,1)">Headphone</text>
<text class="t" transform="translate(822,82) scale(.8167,1)">TP2</text>
<text class="t" transform="translate(1100,25) scale(.8167,1)">D3</text>
<text class="t" transform="translate(1190,25) scale(.8167,1)">D2</text>
<text class="t" transform="translate(1035,165) scale(.8167,1) rotate(-90)">R27</text>
<text class="t" transform="translate(1183,160) scale(.8167,1) rotate(-90)">R26</text>
<text class="t" transform="translate(1150,228) scale(.8167,1)">C25</text>
<text class="t" transform="translate(1150,407) scale(.8167,1)">R28</text>
<text class="t" transform="translate(695,668) scale(.8167,1)">8</text>
<text class="t" transform="translate(637,705) scale(.8167,1)">3</text>
<text class="t" transform="translate(750,697) scale(.8167,1)">6</text>
<text class="t" transform="translate(915,782) scale(.8167,1)">5</text>
<text class="t" transform="translate(637,862) scale(.8167,1)">2</text>
<text class="t" transform="translate(772,897) scale(.8167,1)">4</text>
<text class="t" transform="translate(697,935) scale(.8167,1)">1</text>
<text class="t" transform="translate(1320,242) scale(.8167,1)">S2</text>
<text class="t" transform="translate(1372,262) scale(.8167,1)">ON</text>
<text class="t" transform="translate(1378,330) scale(.8167,1)">OFF</text>
</g>
</g>

<!-- orig-coordinate wiring: SW1 area and bottom line -->
<path class="w" d="M798.6,631 H1143 M1143,621 H1163 M1143,631 H1163 M1163,621 V612 H1205 M1184,621 H1195 M1247,610 H1236.7 V622 M694.5,962.7 H916 V948 H943"/>
<g fill="#111">
<ellipse cx="1111" cy="631" rx="2.8" ry="2.2"/><ellipse cx="1143" cy="621" rx="2.8" ry="2.2"/><ellipse cx="1163" cy="621" rx="2.8" ry="2.2"/><ellipse cx="1143" cy="631" rx="2.8" ry="2.2"/><ellipse cx="1163" cy="631" rx="2.8" ry="2.2"/><ellipse cx="1184" cy="621" rx="2.8" ry="2.2"/><ellipse cx="1184" cy="631" rx="2.8" ry="2.2"/>
</g>
<text class="s" x="1120" y="620">FM</text>
<text class="s" x="1211" y="620">AM</text>
<text class="s" x="1066" y="629">SW1</text>
</svg>
</body></html>
